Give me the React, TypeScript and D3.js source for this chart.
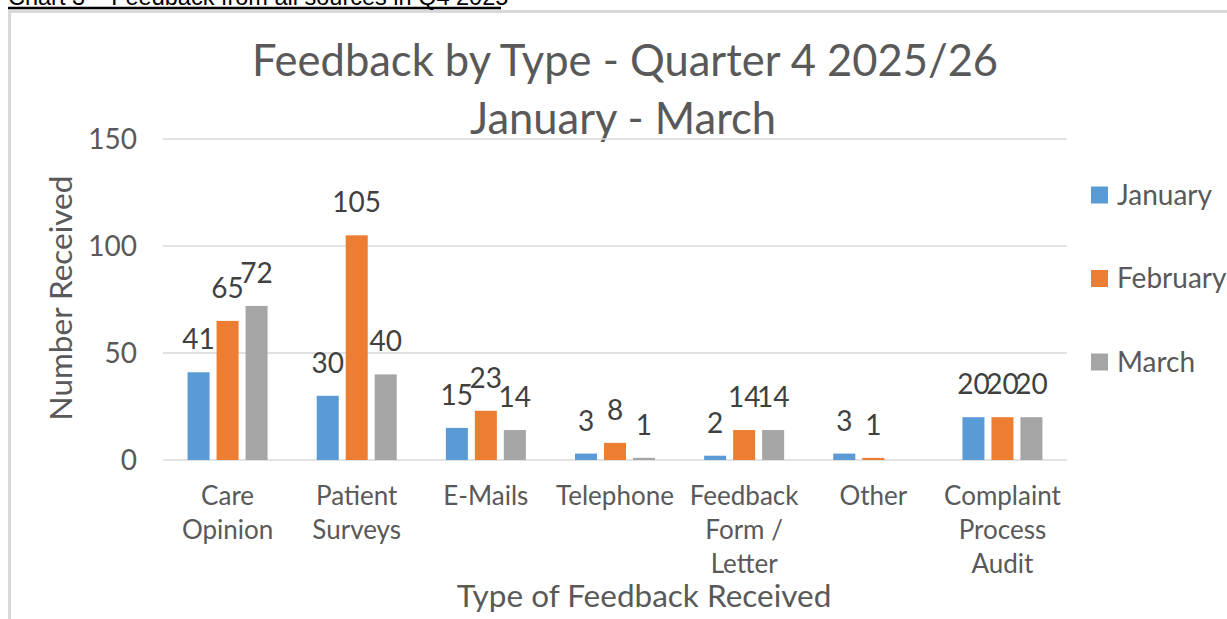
import React from 'react';
import * as d3 from 'd3';

const categories = ['Care Opinion', 'Patient Surveys', 'E-Mails', 'Telephone', 'Feedback Form / Letter', 'Other', 'Complaint Process Audit'];
const categoryLines = [['Care', 'Opinion'], ['Patient', 'Surveys'], ['E-Mails'], ['Telephone'], ['Feedback', 'Form /', 'Letter'], ['Other'], ['Complaint', 'Process', 'Audit']];
const seriesNames = ['January', 'February', 'March'];
const january = [41, 30, 15, 3, 2, 3, 20];
const february = [65, 105, 23, 8, 14, 1, 20];
const march: (number | null)[] = [72, 40, 14, 1, 14, null, 20];
const yTicks = [0, 50, 100, 150];
const colors = ['#5b9bd5', '#ed7d31', '#a5a5a5'];

const W = 1227;
const H = 619;
const font = 'Lato, Carlito, Calibri, sans-serif';

export default function App() {
  const series = [january, february, march];
  const x0 = d3.scaleBand<string>().domain(categories).range([163, 1067]);
  const groupW = 80;
  const x1 = d3.scaleBand<string>().domain(seriesNames).range([0, groupW]).paddingInner(0.241);
  const y = d3.scaleLinear().domain([0, 150]).range([460, 139]);
  const off = (x0.bandwidth() - groupW) / 2;

  return (
    <svg width={W} height={H} style={{ position: 'absolute', left: 0, top: 0, background: '#fff' }} fontFamily={font}>
      <rect x={0} y={0} width={W} height={H} fill="#fff" />
      {/* page heading, mostly cut off at the top */}
      <text x={8} y={5} fontFamily="'Liberation Sans', Arial, sans-serif" fontSize={23.5} fill="#000">
        Chart 3 – Feedback from all sources in Q4 2025
      </text>
      <line x1={8} x2={501} y1={8} y2={8} stroke="#000" strokeWidth={2.5} />
      {/* chart frame */}
      <line x1={8} x2={W} y1={11.5} y2={11.5} stroke="#d9d9d9" strokeWidth={3} />
      <line x1={9.5} x2={9.5} y1={11} y2={H} stroke="#d9d9d9" strokeWidth={3} />

      <text x={625} y={76} textAnchor="middle" fontSize={43.5} fill="#595959">Feedback by Type - Quarter 4 2025/26</text>
      <text x={623} y={134} textAnchor="middle" fontSize={43.5} fill="#595959">January - March</text>

      {yTicks.map(t => (
        <g key={t}>
          <line x1={163} x2={1067} y1={y(t)} y2={y(t)} stroke="#d9d9d9" strokeWidth={1.5} />
          <text x={137} y={y(t)} dy="0.35em" textAnchor="end" fontSize={28} fill="#595959">{t}</text>
        </g>
      ))}

      {categories.map((c, i) => (
        <g key={c} transform={`translate(${(x0(c) ?? 0) + off},0)`}>
          {series.map((s, k) => {
            const v = s[i];
            if (v == null) return null;
            const bx = x1(seriesNames[k]) ?? 0;
            return (
              <g key={k}>
                <rect x={bx} y={y(v)} width={x1.bandwidth()} height={y(0) - y(v)} fill={colors[k]} />
                <text x={bx + x1.bandwidth() / 2} y={y(v) - 23} textAnchor="middle" fontSize={28} fill="#404040">{v}</text>
              </g>
            );
          })}
        </g>
      ))}

      {categories.map((c, i) => (
        <text key={c} x={(x0(c) ?? 0) + x0.bandwidth() / 2} y={505} textAnchor="middle" fontSize={26} fill="#595959">
          {categoryLines[i].map((ln, j) => (
            <tspan key={j} x={(x0(c) ?? 0) + x0.bandwidth() / 2} dy={j === 0 ? 0 : 34}>{ln}</tspan>
          ))}
        </text>
      ))}

      <text transform="translate(72,298) rotate(-90)" textAnchor="middle" fontSize={31.5} fill="#595959">Number Received</text>
      <text x={644} y={607} textAnchor="middle" fontSize={31.5} fill="#595959">Type of Feedback Received</text>

      {seriesNames.map((n, k) => (
        <g key={n} transform={`translate(1091,${195 + k * 83.5})`}>
          <rect x={0} y={-8.5} width={17} height={17} fill={colors[k]} />
          <text x={26} y={0} dy="0.35em" fontSize={28} fill="#595959">{n}</text>
        </g>
      ))}
    </svg>
  );
}
